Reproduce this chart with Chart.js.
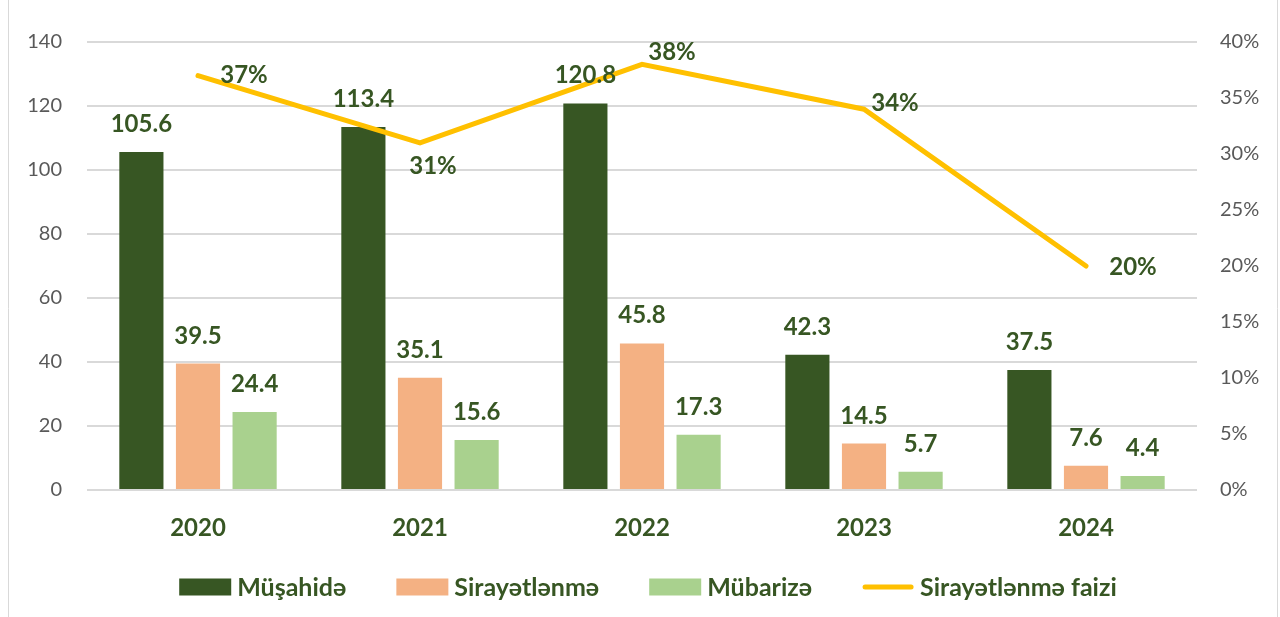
<!DOCTYPE html>
<html>
<head>
<meta charset="utf-8">
<script src="https://cdn.jsdelivr.net/npm/chart.js@4.4.1/dist/chart.umd.min.js"></script>
<style>
  html, body { margin: 0; padding: 0; background: #fff; }
  #wrap { width: 1280px; height: 617px; position: relative; }
</style>
</head>
<body>
<div id="wrap"><canvas id="chart" width="1280" height="617"></canvas></div>
<script>
const years = ["2020", "2021", "2022", "2023", "2024"];
const musahide = [105.6, 113.4, 120.8, 42.3, 37.5];
const sirayetlenme = [39.5, 35.1, 45.8, 14.5, 7.6];
const mubarize = [24.4, 15.6, 17.3, 5.7, 4.4];
const faiz = [37, 31, 38, 34, 20];

const seriesNames = ["Müşahidə", "Sirayətlənmə", "Mübarizə", "Sirayətlənmə faizi"];

// label nudges for the percentage line (px)
const pctLabelShift = [[46, 0], [13, 23], [30, -12], [31, -6], [47, 1]];

const labelColor = "#375623";
const fontFamily = "Lato, 'Open Sans', sans-serif";

/* value labels, custom legend, frame */
const decor = {
  id: "decor",
  afterDatasetsDraw(chart) {
    const ctx = chart.ctx;
    ctx.save();
    ctx.fillStyle = labelColor;
    ctx.font = "bold 24px " + fontFamily;
    ctx.textAlign = "center";
    ctx.textBaseline = "alphabetic";
    [0, 1, 2].forEach(di => {
      const meta = chart.getDatasetMeta(di);
      meta.data.forEach((bar, i) => {
        const v = chart.data.datasets[di].data[i];
        ctx.fillText(v.toFixed(1), bar.x, bar.y - 20);
      });
    });
    ctx.textBaseline = "middle";
    const lineMeta = chart.getDatasetMeta(3);
    lineMeta.data.forEach((pt, i) => {
      const v = chart.data.datasets[3].data[i];
      const s = pctLabelShift[i];
      ctx.fillText(v + "%", pt.x + s[0], pt.y + s[1]);
    });
    ctx.restore();
  },
  afterDraw(chart) {
    const ctx = chart.ctx;
    ctx.save();
    // frame
    ctx.strokeStyle = "#d9d9d9";
    ctx.lineWidth = 1;
    ctx.beginPath();
    ctx.moveTo(8.5, 0); ctx.lineTo(8.5, 617);
    ctx.moveTo(1277.5, 0); ctx.lineTo(1277.5, 617);
    ctx.stroke();

    // legend
    ctx.font = "bold 25px " + fontFamily;
    ctx.textBaseline = "middle";
    ctx.textAlign = "left";
    const boxW = 52, boxH = 17, gap = 6, itemGap = 50;
    const widths = seriesNames.map(n => boxW + gap + ctx.measureText(n).width);
    const total = widths.reduce((a, b) => a + b, 0) + itemGap * (widths.length - 1);
    let x = 648 - total / 2;
    const y = 587;
    chart.data.datasets.forEach((ds, i) => {
      if (ds.type === "line") {
        ctx.strokeStyle = ds.borderColor;
        ctx.lineWidth = 5;
        ctx.lineCap = "round";
        ctx.beginPath();
        ctx.moveTo(x + 3, y);
        ctx.lineTo(x + boxW - 3, y);
        ctx.stroke();
      } else {
        ctx.fillStyle = ds.backgroundColor;
        ctx.fillRect(x, y - boxH / 2, boxW, boxH);
      }
      ctx.fillStyle = labelColor;
      ctx.fillText(seriesNames[i], x + boxW + gap, y + 1);
      x += widths[i] + itemGap;
    });
    ctx.restore();
  }
};

new Chart(document.getElementById("chart"), {
  data: {
    labels: years,
    datasets: [
      { type: "bar", label: seriesNames[0], data: musahide, backgroundColor: "#375623", yAxisID: "y", order: 1 },
      { type: "bar", label: seriesNames[1], data: sirayetlenme, backgroundColor: "#F4B183", yAxisID: "y", order: 1 },
      { type: "bar", label: seriesNames[2], data: mubarize, backgroundColor: "#A9D18E", yAxisID: "y", order: 1 },
      {
        type: "line", label: seriesNames[3], data: faiz, borderColor: "#FFC000",
        backgroundColor: "#FFC000", borderWidth: 5, pointRadius: 0, tension: 0,
        yAxisID: "y1", order: 0, borderCapStyle: "round", borderJoinStyle: "miter"
      }
    ]
  },
  options: {
    responsive: false,
    animation: false,
    layout: { padding: { top: 42, bottom: 0, left: 0, right: 0 } },
    datasets: {
      bar: { barPercentage: 0.78, categoryPercentage: 0.765 }
    },
    plugins: {
      legend: { display: false },
      tooltip: { enabled: false }
    },
    scales: {
      x: {
        grid: { display: false, drawTicks: false },
        border: { display: false },
        ticks: {
          color: labelColor,
          font: { family: fontFamily, size: 24, weight: "bold" },
          padding: 24
        },
        afterFit(scale) { scale.height = 127; }
      },
      y: {
        position: "left",
        min: 0, max: 140,
        ticks: {
          stepSize: 20,
          color: "#595959",
          font: { family: fontFamily, size: 20 },
          padding: 25
        },
        grid: { color: "#d9d9d9", lineWidth: 2, drawTicks: false },
        border: { display: false },
        afterFit(scale) { scale.width = 87; }
      },
      y1: {
        position: "right",
        min: 0, max: 40,
        ticks: {
          stepSize: 5,
          color: "#595959",
          font: { family: fontFamily, size: 20 },
          padding: 23,
          callback: v => v + "%"
        },
        grid: { display: false, drawTicks: false },
        border: { display: false },
        afterFit(scale) { scale.width = 83; }
      }
    }
  },
  plugins: [decor]
});
</script>
</body>
</html>
